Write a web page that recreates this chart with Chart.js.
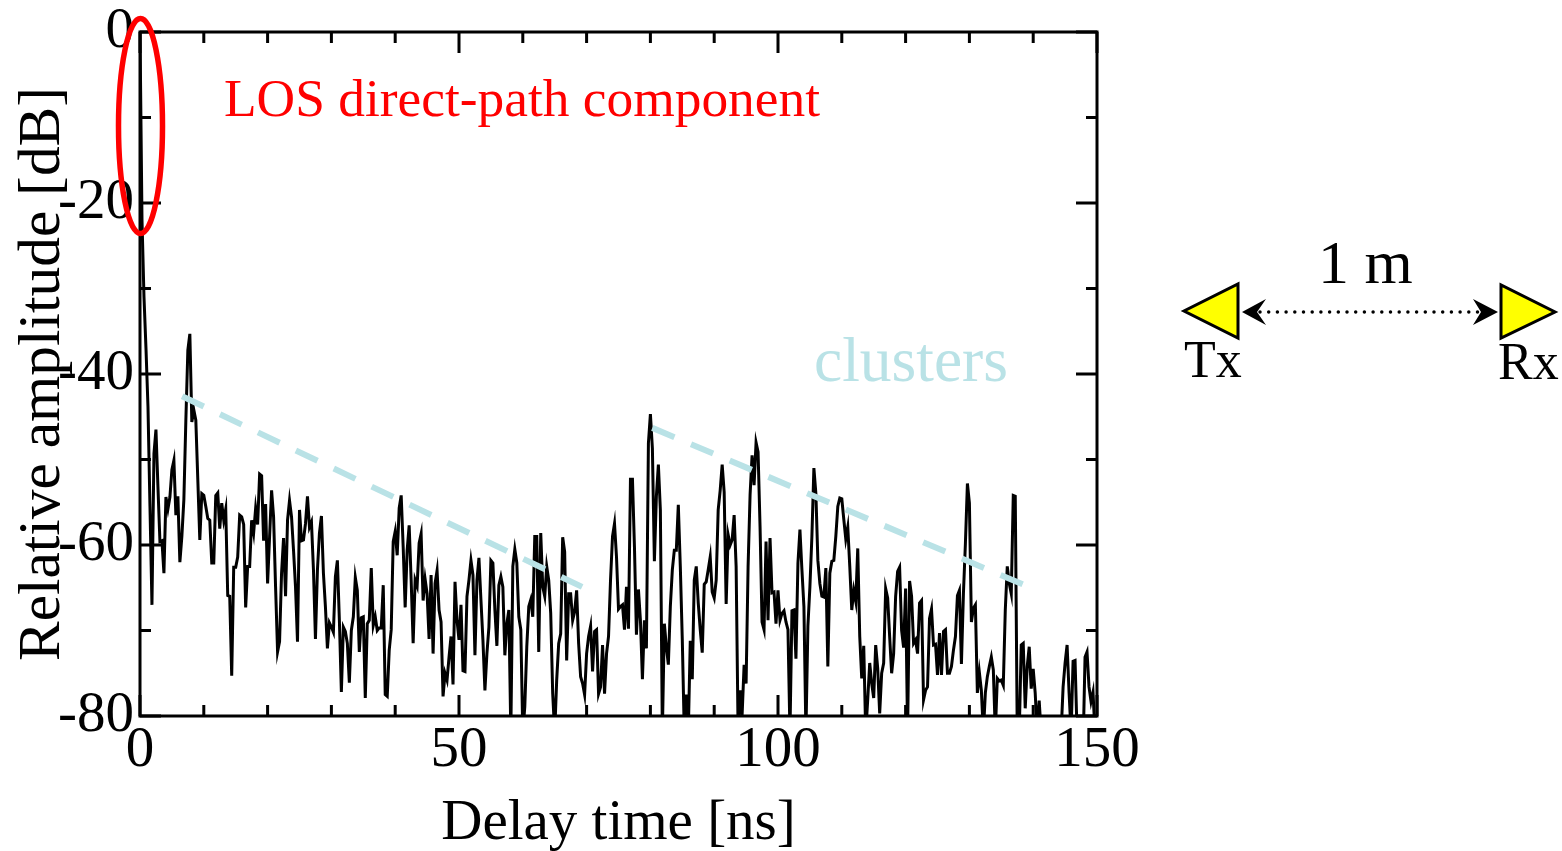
<!DOCTYPE html>
<html>
<head>
<meta charset="utf-8">
<title>Delay profile</title>
<script src="https://cdn.jsdelivr.net/npm/chart.js@4/dist/chart.umd.min.js"></script>
<style>
  html, body { margin: 0; padding: 0; background: #fff; }
  canvas { display: block; }
</style>
</head>
<body>
<canvas id="chart" width="1562" height="851"></canvas>
<script>
// ── data ──
const sampleStepNs = 0.3125;
const ampDb = [
  0, -22, -31, -37, -43.8, -55.5, -67, -49.3, -46.5, -53.2,
  -59.6, -59.5, -63.3, -54.4, -55.8, -54.4, -51.2, -50.1, -56.5, -54.3,
  -62, -59, -54.7, -45.4, -37.2, -35.3, -45.6, -44.2, -45.4, -52.4,
  -59.4, -54, -54.2, -55.5, -56.9, -57.1, -62.1, -62.1, -54.2, -53.9,
  -58.1, -55.1, -57.1, -55.8, -65.9, -66, -75.3, -62.6, -62.6, -61.4,
  -56.5, -56.7, -57.6, -67.3, -62.5, -62.5, -57.1, -58.6, -55.7, -57.6,
  -51.7, -51.9, -59.5, -55.2, -64.5, -59, -53.6, -56.7, -64.9, -72.5,
  -71.3, -63.3, -59.2, -66, -57.1, -54.8, -56.7, -60.6, -64.9, -71.3,
  -55.9, -59.5, -59.4, -57.5, -54.3, -57.9, -57.3, -62.9, -71, -62.9,
  -58.6, -56.6, -63.3, -67.2, -72.1, -69.1, -69.6, -70.2, -63.7, -61.8,
  -68.8, -77.2, -69.6, -70.1, -71.5, -76.1, -70, -68.4, -63.8, -65.3,
  -72.5, -68.5, -68.4, -77.9, -69.2, -68.8, -62.7, -69.4, -68.4, -70,
  -69.7, -69.7, -64.7, -77.5, -77.7, -72.3, -69.9, -59.6, -58.4, -61.2,
  -55.7, -54.2, -60.2, -67.3, -60.6, -57.7, -64.1, -71.5, -64.1, -64.8,
  -59.8, -58.7, -66.5, -64, -65.7, -71, -63.5, -72.7, -64.5, -63,
  -67.6, -69, -77.7, -75, -75.8, -73.1, -70.7, -76.3, -64.3, -68.8,
  -71.1, -67, -74.7, -74.8, -66, -64.1, -61.8, -63.5, -72.9, -64.1,
  -61.5, -66.4, -71.1, -77, -72.7, -69.6, -61.8, -62.1, -67.6, -71.8,
  -64.7, -63.7, -64.9, -72.9, -69.2, -67.6, -82, -62.5, -60.5, -62.1,
  -68.4, -69.9, -82, -78.9, -71.9, -67.2, -66.4, -68.4, -59, -59,
  -72.5, -58.6, -64.9, -66, -62.5, -64.1, -68, -77.4, -82, -75.8,
  -71.5, -70.4, -59.1, -60.8, -73.5, -65.7, -65.7, -68.8, -67.8, -65.3,
  -71.5, -75.4, -76.2, -77.5, -72.7, -70.7, -69.5, -74.8, -70.1, -69.9,
  -77.4, -76.6, -71.7, -77.4, -72.7, -70.7, -64.1, -59, -57.5, -61.4,
  -67.5, -67.2, -67, -69.9, -64.9, -69.8, -52.3, -52.3, -60.2, -70.5,
  -65.2, -68.8, -75.7, -68.8, -72.1, -48.1, -44.7, -48.7, -61.9, -54.3,
  -50.6, -55.9, -82, -69.2, -71.9, -74, -67.2, -62.9, -60.6, -60.6,
  -55.3, -62.5, -71.1, -82, -77.5, -82, -71.2, -75.7, -64.1, -62.5,
  -66.8, -69.9, -72.6, -64.6, -64.3, -62.9, -61.4, -65.5, -66.2, -64.1,
  -55.9, -53.6, -50.6, -53.8, -66.9, -58.8, -60, -59.4, -56.5, -62.5,
  -82, -77, -79.9, -74, -76.2, -62.5, -54.1, -49.5, -53, -48,
  -49.1, -57.9, -69, -69.9, -59.6, -68.8, -59.2, -65.6, -65.5, -69.2,
  -65.3, -68.8, -68, -67.7, -69, -69.9, -82, -67.7, -67.6, -73.3,
  -62.1, -58.2, -62.9, -67.2, -82, -69.5, -64.9, -59, -51, -54,
  -61.8, -64.5, -66, -66.1, -62.7, -74.2, -63.3, -61.9, -61.8, -59,
  -55.5, -54.5, -54.6, -57, -59.3, -57.9, -62.5, -67.6, -65.3, -66.6,
  -60.4, -70.7, -75.6, -71.8, -82, -78.1, -73.8, -76.2, -77.9, -71.7,
  -74.4, -79.7, -75, -73.8, -65.1, -66.2, -70.7, -75, -72.7, -66,
  -63.1, -62.6, -70, -72, -65.1, -82, -64.2, -66, -71.5, -71.1,
  -72.7, -66.8, -66.5, -78.1, -77, -76.6, -68.6, -67.5, -71.7, -71.6,
  -75.2, -70.3, -75.2, -70.1, -69.9, -75, -75, -74.2, -72.3, -70.7,
  -65.9, -65.3, -73.9, -65.7, -59.8, -52.8, -55.1, -69, -67.4, -67,
  -77.3, -74.9, -77, -82, -77.3, -75.4, -74.2, -73.1, -74.6, -82,
  -75.6, -75.9, -75.8, -76.4, -67.6, -62.5, -64.5, -65.7, -54.2, -54.3,
  -82, -82, -71.7, -71.5, -79.1, -74.2, -71.9, -76.8, -74.5, -77.3,
  -82, -78.2, -82, -84, -84, -84, -84, -84, -84, -84,
  -84, -84, -82, -76.6, -73.8, -71.7, -77.3, -82, -73.6, -73.5,
  -82, -84, -84, -84, -73.1, -72.5, -76.6, -78.3, -77.2, -82, -82
];
const delayNs = ampDb.map((_, i) => i * sampleStepNs);

const clusterA = [{ x: 6.6, y: -42.6 }, { x: 69.3, y: -64.9 }];
const clusterB = [{ x: 80.3, y: -46.3 }, { x: 138.7, y: -64.7 }];

const xLabelled = [0, 50, 100, 150];
const yLabelled = [0, -20, -40, -60, -80];

const SERIF = '"Liberation Serif", "Times New Roman", serif';
const CLUSTER_COLOR = '#b9e2e6';

// inward ticks and the box round the plot
const frame = {
  id: 'frame',
  afterDatasetsDraw(chart) {
    const { ctx, chartArea: a, scales } = chart;
    ctx.save();
    ctx.strokeStyle = '#000';
    ctx.lineWidth = 3;
    ctx.beginPath();
    scales.x.ticks.forEach(t => {
      const px = scales.x.getPixelForValue(t.value);
      const len = xLabelled.includes(t.value) ? 21 : 11;
      ctx.moveTo(px, a.bottom); ctx.lineTo(px, a.bottom - len);
      ctx.moveTo(px, a.top); ctx.lineTo(px, a.top + len);
    });
    scales.y.ticks.forEach(t => {
      const py = scales.y.getPixelForValue(t.value);
      const len = yLabelled.includes(t.value) ? 21 : 11;
      ctx.moveTo(a.left, py); ctx.lineTo(a.left + len, py);
      ctx.moveTo(a.right, py); ctx.lineTo(a.right - len, py);
    });
    ctx.stroke();
    ctx.strokeRect(a.left, a.top, a.right - a.left, a.bottom - a.top);
    ctx.restore();
  }
};

// annotations on top: red ellipse, labels, Tx/Rx sketch
const notes = {
  id: 'notes',
  afterDraw(chart) {
    const { ctx, scales } = chart;
    ctx.save();

    const cx = scales.x.getPixelForValue(0), cy = scales.y.getPixelForValue(-11);
    ctx.strokeStyle = '#ff0000';
    ctx.lineWidth = 5.5;
    ctx.beginPath();
    ctx.ellipse(cx + 0.5, cy, 22, 107.5, 0, 0, Math.PI * 2);
    ctx.stroke();

    ctx.textBaseline = 'alphabetic';
    ctx.textAlign = 'left';
    ctx.fillStyle = '#ff0000';
    ctx.font = '53.4px ' + SERIF;
    ctx.fillText('LOS direct-path component', 224, 116);

    ctx.fillStyle = CLUSTER_COLOR;
    ctx.font = '63.5px ' + SERIF;
    ctx.fillText('clusters', 814, 381);

    ctx.fillStyle = '#000';
    ctx.font = '62px ' + SERIF;
    ctx.fillText('1 m', 1318, 283);
    ctx.font = '52px ' + SERIF;
    ctx.fillText('Tx', 1184, 377);
    ctx.fillText('Rx', 1498, 379);

    // antennas
    ctx.fillStyle = '#ffff00';
    ctx.strokeStyle = '#000';
    ctx.lineWidth = 3;
    ctx.lineJoin = 'miter';
    [[[1238, 284], [1238, 338], [1184, 311]], [[1501, 285], [1501, 338], [1555, 312]]].forEach(p => {
      ctx.beginPath();
      ctx.moveTo(p[0][0], p[0][1]); ctx.lineTo(p[1][0], p[1][1]); ctx.lineTo(p[2][0], p[2][1]);
      ctx.closePath();
      ctx.fill();
      ctx.stroke();
    });

    // dotted double arrow
    ctx.strokeStyle = '#000';
    ctx.lineWidth = 3.5;
    ctx.lineCap = 'round';
    ctx.setLineDash([0, 8.7]);
    ctx.beginPath();
    ctx.moveTo(1260, 312); ctx.lineTo(1482, 312);
    ctx.stroke();
    ctx.setLineDash([]);
    ctx.fillStyle = '#000';
    ctx.beginPath();
    ctx.moveTo(1242, 312); ctx.lineTo(1266, 299); ctx.lineTo(1257, 312); ctx.lineTo(1266, 325);
    ctx.closePath();
    ctx.fill();
    ctx.beginPath();
    ctx.moveTo(1498, 312); ctx.lineTo(1473, 299); ctx.lineTo(1481, 312); ctx.lineTo(1473, 325);
    ctx.closePath();
    ctx.fill();

    ctx.restore();
  }
};

new Chart(document.getElementById('chart'), {
  type: 'line',
  data: {
    datasets: [
      { data: clusterA, borderColor: CLUSTER_COLOR, borderWidth: 6, borderDash: [24, 18], pointRadius: 0, order: 0 },
      { data: clusterB, borderColor: CLUSTER_COLOR, borderWidth: 6, borderDash: [24, 18], pointRadius: 0, order: 0 },
      { data: delayNs.map((x, i) => ({ x, y: ampDb[i] })), borderColor: '#000', borderWidth: 3, pointRadius: 0, tension: 0, borderJoinStyle: 'miter', order: 1 }
    ]
  },
  options: {
    responsive: false,
    animation: false,
    layout: { padding: { top: 32, right: 465, left: 0, bottom: 0 } },
    plugins: { legend: { display: false }, tooltip: { enabled: false } },
    scales: {
      x: {
        type: 'linear', min: 0, max: 150,
        afterFit: s => { s.height = 135; s.paddingLeft = 0; s.paddingRight = 0; },
        grid: { display: false, drawTicks: false },
        border: { display: false },
        ticks: {
          stepSize: 10, autoSkip: false, maxRotation: 0, padding: 7, color: '#000',
          font: { family: SERIF, size: 57, lineHeight: 1 },
          callback: v => xLabelled.includes(v) ? String(v) : ''
        },
        title: { display: true, text: 'Delay time [ns]', color: '#000', font: { family: SERIF, size: 57, lineHeight: 0.93 }, padding: { top: 0, bottom: 0 } }
      },
      y: {
        type: 'linear', min: -80, max: 0,
        afterFit: s => { s.width = 140; s.paddingTop = 0; s.paddingBottom = 0; },
        grid: { display: false, drawTicks: false },
        border: { display: false },
        ticks: {
          stepSize: 10, autoSkip: false, padding: 6, color: '#000',
          font: { family: SERIF, size: 57, lineHeight: 1 },
          callback: v => yLabelled.includes(v) ? String(v) : ''
        },
        title: { display: true, text: 'Relative amplitude [dB]', color: '#000', font: { family: SERIF, size: 59.4, lineHeight: 1 }, padding: { top: 14, bottom: 0 } }
      }
    }
  },
  plugins: [frame, notes]
});
</script>
</body>
</html>
